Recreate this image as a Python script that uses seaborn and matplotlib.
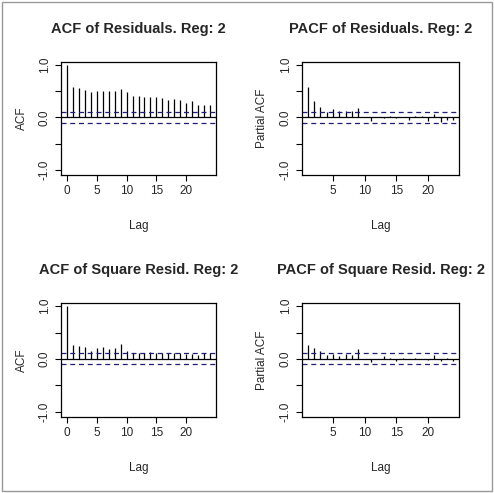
import matplotlib
matplotlib.use("Agg")
import matplotlib.pyplot as plt
import seaborn as sns
import numpy as np

sns.set_style("ticks")
plt.rcParams['font.family'] = ['Liberation Sans', 'DejaVu Sans']

acf_res = [1.0, 0.59, 0.56, 0.52, 0.49, 0.50, 0.50, 0.50, 0.50, 0.54, 0.48, 0.41, 0.41,
           0.39, 0.39, 0.39, 0.37, 0.33, 0.35, 0.33, 0.27, 0.32, 0.23, 0.23, 0.23]
pacf_res = [0.58, 0.32, 0.20, 0.10, 0.16, 0.12, 0.13, 0.12, 0.18, 0.0, -0.06, 0.01,
            -0.01, 0.02, -0.01, 0.0, -0.05, 0.02, 0.02, -0.07, 0.06, -0.08, -0.05, -0.04]
acf_sq = [1.0, 0.27, 0.24, 0.22, 0.15, 0.20, 0.23, 0.19, 0.20, 0.29, 0.16, 0.12, 0.12,
          0.12, 0.13, 0.11, 0.12, 0.11, 0.11, 0.12, 0.09, 0.10, 0.07, 0.11, 0.11]
pacf_sq = [0.27, 0.20, 0.15, 0.08, 0.10, 0.06, 0.10, 0.08, 0.19, 0.0, -0.05, 0.0,
           0.06, 0.02, -0.03, 0.01, -0.01, 0.01, 0.0, -0.02, 0.08, -0.03, 0.02, -0.03]
conf = 0.105
titles = ["ACF of Residuals. Reg: 2", "PACF of Residuals. Reg: 2",
          "ACF of Square Resid. Reg: 2", "PACF of Square Resid. Reg: 2"]
ylabels = ["ACF", "Partial ACF", "ACF", "Partial ACF"]

W, H = 494, 493
fig = plt.figure(figsize=(W/100, H/100), dpi=100)
fig.patches.append(plt.Rectangle((0.004, 0.004), 0.992, 0.992, transform=fig.transFigure,
                                 fill=False, edgecolor='#999999', lw=1))
boxes = [(61, 62, 216, 175), (302, 62, 459, 175), (61, 303, 216, 417), (302, 303, 459, 417)]
series = [acf_res, pacf_res, acf_sq, pacf_sq]
for i, (vals, (l, t, r, b)) in enumerate(zip(series, boxes)):
    ax = fig.add_axes([l/W, 1-b/H, (r-l)/W, (b-t)/H])
    start = 0 if i % 2 == 0 else 1
    lags = np.arange(start, start+len(vals))
    ax.vlines(lags, 0, vals, color='black', lw=0.9)
    ax.axhline(0, color='black', lw=0.9)
    for c in (conf, -conf):
        ax.axhline(c, color='#1f1f7a', lw=0.9, ls=(0, (4, 3)))
    if start == 0:
        ax.set_xlim(-0.96, 24.96)
        ax.set_xticks([0, 5, 10, 15, 20])
    else:
        ax.set_xlim(0.08, 24.92)
        ax.set_xticks([5, 10, 15, 20])
    ax.set_ylim(-1.1, 1.06)
    ax.set_yticks([-1.0, -0.5, 0.0, 0.5, 1.0])
    ax.set_yticklabels(["-1.0", "", "0.0", "", "1.0"], rotation=90, va='center')
    ax.tick_params(labelsize=8.5, length=4, width=0.8, color='black')
    for s in ax.spines.values():
        s.set_linewidth(0.9); s.set_color('black')
    ax.set_title(titles[i], fontsize=10.5, fontweight='bold', pad=21)
    ax.set_xlabel("Lag", fontsize=8.5, labelpad=16)
    ax.set_ylabel(ylabels[i], fontsize=8.5, labelpad=8)

fig.savefig("out.png", dpi=100)
